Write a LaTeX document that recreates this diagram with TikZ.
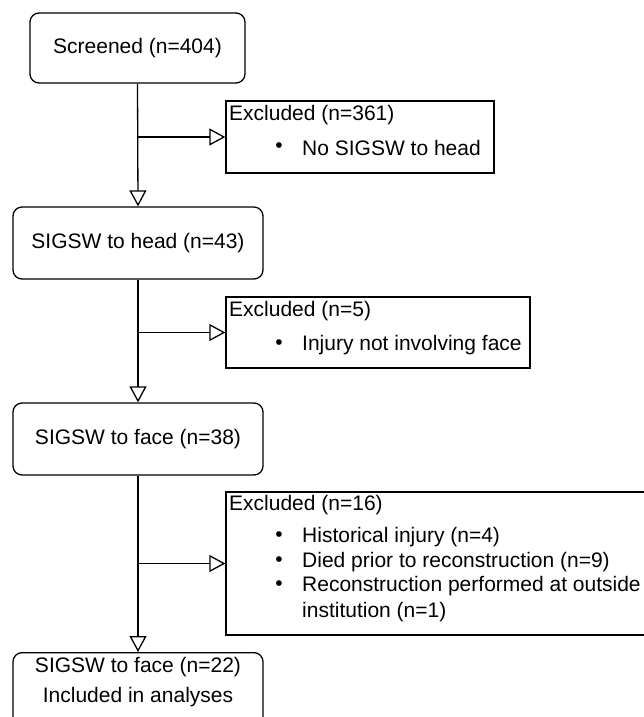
\documentclass[tikz,border=0pt]{standalone}
\usepackage{fontspec}
\setmainfont{Liberation Sans}
\usetikzlibrary{arrows.meta}
\tikzset{
  flowbox/.style={draw, line width=1.3pt, rounded corners=9pt, minimum width=250pt, minimum height=72pt, inner sep=0pt, align=center},
  exbox/.style={draw, line width=1.3pt, inner sep=0pt},
  txt/.style={inner sep=0pt, font=\fontsize{21}{25}\selectfont},
  hd/.style={txt, anchor=west},
  bul/.style={txt, anchor=center},
  arr/.style={line width=1.3pt, -{Triangle[open, length=16pt, width=17pt, line width=1.3pt, fill=white]}},
  ln/.style={line width=1.3pt}
}
\begin{document}
\begin{tikzpicture}[x=1pt, y=-1pt]
\useasboundingbox (0,0) rectangle (644,717);
\fill[white] (0,0) rectangle (644,717);
\begin{scope}
\clip (0,0) rectangle (644,717);
% main boxes
\node[flowbox, minimum width=215pt, minimum height=70pt, font=\fontsize{21}{25}\selectfont] (s1) at (137.5,48) {Screened (n=404)};
\node[flowbox, font=\fontsize{21}{25}\selectfont] (s2) at (138,243) {SIGSW to head (n=43)};
\node[flowbox, font=\fontsize{21}{25}\selectfont] (s3) at (138,439) {SIGSW to face (n=38)};
\node[flowbox, minimum height=110pt, font=\fontsize{21}{30}\selectfont, anchor=north] (s4) at (138,652) {};
\node[txt, anchor=center] (s4a) at (138,667) {SIGSW to face (n=22)};
\node[txt, anchor=center] (s4b) at (138,697) {Included in analyses};
% exclusion boxes
\node[exbox, minimum width=268pt, minimum height=72pt] (e1) at (360,137) {};
\node[exbox, minimum width=304pt, minimum height=71pt] (e2) at (378,332.5) {};
\node[exbox, minimum width=460pt, minimum height=143pt] (e3) at (456,563.5) {};
% exclusion texts
\node[hd] (e1h) at (229,115) {Excluded (n=361)};
\node[bul] (e1b) at (279,148) {•};
\node[hd] (e1t) at (302,148) {No SIGSW to head};
\node[hd] (e2h) at (229,311) {Excluded (n=5)};
\node[bul] (e2b) at (279,345) {•};
\node[hd] (e2t) at (302,345) {Injury not involving face};
\node[hd] (e3h) at (229,505) {Excluded (n=16)};
\node[bul] (e3b1) at (279,537) {•};
\node[hd] (e3t1) at (302,537) {Historical injury (n=4)};
\node[bul] (e3b2) at (279,562) {•};
\node[hd] (e3t2) at (302,562) {Died prior to reconstruction (n=9)};
\node[bul] (e3b3) at (279,586) {•};
\node[hd] (e3t3) at (302,586) {Reconstruction performed at outside};
\node[hd] (e3t4) at (302,612) {institution (n=1)};
% connectors
\coordinate (b1) at (s1.south |- e1.west);
\coordinate (b2) at (s2.south |- e2.west);
\coordinate (b3) at (s3.south |- e3.west);
\draw[arr] (s1.south) -- (s2.north);
\draw[arr] (b1) -- (e1.west);
\draw[arr] (s2.south) -- (s3.north);
\draw[arr] (b2) -- (e2.west);
\draw[arr] (s3.south) -- (s4.north);
\draw[arr] (b3) -- (e3.west);
\end{scope}
\end{tikzpicture}
\end{document}
